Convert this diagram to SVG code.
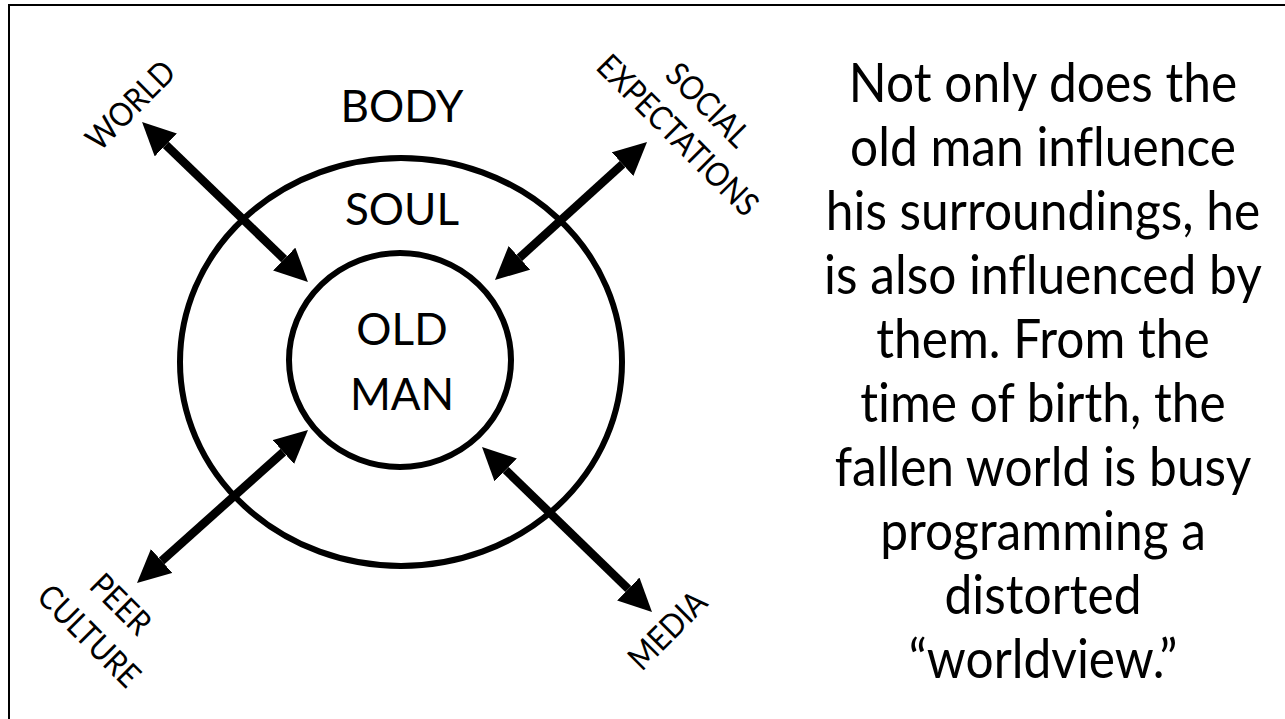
<svg xmlns="http://www.w3.org/2000/svg" width="1285" height="719" viewBox="0 0 1285 719">
  <style>
    text { font-family: Lato, "Open Sans", "Liberation Sans", sans-serif; fill: #000; text-anchor: middle; font-variant-ligatures: none; font-feature-settings: "liga" 0, "clig" 0, "dlig" 0; }
    .big { font-size: 44px; }
    .lab { font-size: 33px; }
    .para { font-size: 54px; }
    .ring { fill: none; stroke: #000; stroke-width: 6; }
    .conn { stroke: #000; stroke-width: 8.5; fill: none; marker-start: url(#head); marker-end: url(#head); }
  </style>
  <defs>
    <marker id="head" markerUnits="userSpaceOnUse" markerWidth="34" markerHeight="32" viewBox="0 0 34 32" refX="0" refY="16" orient="auto-start-reverse">
      <path d="M0,0 L33,16 L0,32 z" fill="#000"/>
    </marker>
  </defs>
  <rect x="0" y="0" width="1285" height="719" fill="#fff"/>
  <rect x="9" y="5" width="1290" height="730" fill="none" stroke="#000" stroke-width="2"/>

  <g id="body">
    <ellipse class="ring" cx="401" cy="362" rx="221" ry="204"/>
    <text class="big" x="402" y="122">BODY</text>
  </g>
  <g id="soul">
    <text class="big" x="402" y="225">SOUL</text>
  </g>
  <g id="old-man">
    <ellipse class="ring" cx="400" cy="360" rx="111" ry="107"/>
    <text class="big" x="402" y="345">OLD</text>
    <text class="big" x="402" y="410">MAN</text>
  </g>

  <g id="connectors">
    <line class="conn" x1="165.8" y1="144.9" x2="284.2" y2="259.1"/>
    <line class="conn" x1="622.6" y1="164.2" x2="519.4" y2="257.8"/>
    <line class="conn" x1="283.4" y1="452" x2="161.6" y2="561"/>
    <line class="conn" x1="505.7" y1="470" x2="628.3" y2="589"/>
  </g>

  <g id="world">
    <g transform="translate(130,105) rotate(-45) scale(0.9,1)">
      <text class="lab" x="0" y="12">WORLD</text>
    </g>
  </g>
  <g id="social-expectations">
    <g transform="translate(693,120) rotate(45) scale(0.9,1)">
      <text class="lab" x="0" y="-10">SOCIAL</text>
      <text class="lab" x="0" y="33">EXPECTATIONS</text>
    </g>
  </g>
  <g id="peer-culture">
    <g transform="translate(105,620) rotate(45) scale(0.9,1)">
      <text class="lab" x="0" y="-11">PEER</text>
      <text class="lab" x="0" y="34">CULTURE</text>
    </g>
  </g>
  <g id="media">
    <g transform="translate(667,630) rotate(-45) scale(0.9,1)">
      <text class="lab" x="0" y="12">MEDIA</text>
    </g>
  </g>

  <g id="paragraph" transform="translate(1043,0) scale(0.92,1)">
    <text class="para" x="0" y="102">Not only does the</text>
    <text class="para" x="0" y="166">old man influence</text>
    <text class="para" x="0" y="230">his surroundings, he</text>
    <text class="para" x="0" y="294">is also influenced by</text>
    <text class="para" x="0" y="358">them. From the</text>
    <text class="para" x="0" y="422">time of birth, the</text>
    <text class="para" x="0" y="486">fallen world is busy</text>
    <text class="para" x="0" y="550">programming a</text>
    <text class="para" x="0" y="614">distorted</text>
    <text class="para" x="0" y="678">“worldview.”</text>
  </g>
</svg>
